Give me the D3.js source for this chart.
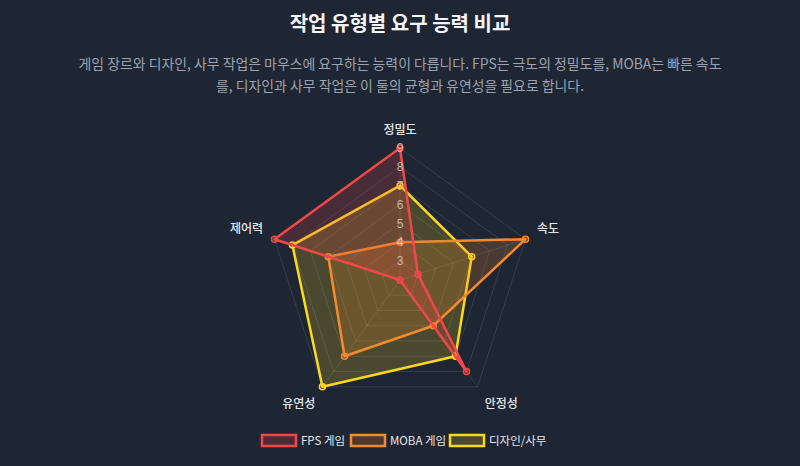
<!DOCTYPE html>
<html>
<head>
<meta charset="utf-8">
<script src="https://cdn.jsdelivr.net/npm/d3@7"></script>
<style>
  html, body { margin: 0; padding: 0; background: #1e2634; }
  svg { display: block; }
</style>
</head>
<body>
<svg id="chart" width="800" height="466"></svg>
<script>
const axes = ['정밀도', '속도', '안정성', '유연성', '제어력'];
const seriesNames = ['FPS 게임', 'MOBA 게임', '디자인/사무'];
const fpsValues = [9, 3, 8, 2, 9];
const mobaValues = [4, 9, 5, 7, 6];
const designValues = [7, 6, 7, 9, 8];
const tickValues = [3, 4, 5, 6, 7, 8, 9];
const subtitleLines = [
    '게임 장르와 디자인, 사무 작업은 마우스에 요구하는 능력이 다릅니다. FPS는 극도의 정밀도를, MOBA는 빠른 속도',
    '를, 디자인과 사무 작업은 이 둘의 균형과 유연성을 필요로 합니다.'
];

const WIDTH = 800;
const CX = 400;
const CY = 280;
const RADIUS = 132;
const FONT = '"Noto Sans CJK KR", "Noto Sans", sans-serif';
const CHART_FONT = '"Liberation Sans", "Noto Sans CJK KR", sans-serif';

const colors = ['#f04848', '#f58a2d', '#fcd91f'];
const fills = ['rgba(240,72,72,0.2)', 'rgba(245,138,45,0.2)', 'rgba(252,217,31,0.2)'];
const series = [fpsValues, mobaValues, designValues];

const svg = d3.select('#chart');

const r = d3.scaleLinear().domain([2, 9]).range([0, RADIUS]);
const angle = d3.scaleLinear().domain([0, axes.length]).range([0, 2 * Math.PI]);

// point on the chart for axis i at value v
const pos = (i, v) => [
    CX + r(v) * Math.sin(angle(i)),
    CY - r(v) * Math.cos(angle(i))
];

// title + subtitle
svg.append('text')
    .attr('x', WIDTH / 2).attr('y', 31)
    .attr('text-anchor', 'middle')
    .attr('font-family', FONT).attr('font-size', 20).attr('font-weight', 700)
    .attr('fill', '#f3f4f6')
    .text('작업 유형별 요구 능력 비교');

svg.selectAll('.subtitle')
    .data(subtitleLines)
    .join('text')
    .attr('class', 'subtitle')
    .attr('x', WIDTH / 2)
    .attr('y', (d, i) => 69 + i * 22)
    .attr('text-anchor', 'middle')
    .attr('font-family', FONT).attr('font-size', 13.9)
    .attr('fill', '#9ca3af')
    .text((d) => d);

// grid rings
const grid = svg.append('g');
tickValues.forEach((t) => {
    const pts = axes.map((a, i) => pos(i, t));
    grid.append('polygon')
        .attr('points', pts.map((p) => p.join(',')).join(' '))
        .attr('fill', 'none')
        .attr('stroke', 'rgba(255,255,255,0.1)')
        .attr('stroke-width', 1);
});

// angle lines
axes.forEach((a, i) => {
    const [x, y] = pos(i, 9);
    grid.append('line')
        .attr('x1', CX).attr('y1', CY)
        .attr('x2', x).attr('y2', y)
        .attr('stroke', 'rgba(255,255,255,0.1)');
});

// series, drawn last-first so FPS ends on top
const line = d3.line().curve(d3.curveLinearClosed);
for (let s = series.length - 1; s >= 0; s--) {
    const pts = series[s].map((v, i) => pos(i, v));
    const g = svg.append('g');
    g.append('path')
        .attr('d', line(pts))
        .attr('fill', fills[s])
        .attr('stroke', colors[s])
        .attr('stroke-width', 2.5)
        .attr('stroke-linejoin', 'round');
    g.selectAll('circle')
        .data(pts)
        .join('circle')
        .attr('cx', (d) => d[0]).attr('cy', (d) => d[1])
        .attr('r', 3)
        .attr('fill', fills[s])
        .attr('stroke', colors[s])
        .attr('stroke-width', 1.5);
}

// tick labels
svg.selectAll('.tick-label')
    .data(tickValues)
    .join('text')
    .attr('class', 'tick-label')
    .attr('x', CX)
    .attr('y', (d) => CY - r(d))
    .attr('dy', '0.35em')
    .attr('text-anchor', 'middle')
    .attr('font-family', CHART_FONT).attr('font-size', 12)
    .attr('fill', 'rgba(230,230,230,0.7)')
    .text((d) => d);

// axis labels
axes.forEach((a, i) => {
    const ang = angle(i);
    const dx = Math.sin(ang);
    const dy = -Math.cos(ang);
    const R = RADIUS + 12;
    let anchor = 'middle';
    if (dx > 0.1) anchor = 'start';
    else if (dx < -0.1) anchor = 'end';
    svg.append('text')
        .attr('x', CX + R * dx)
        .attr('y', CY + R * dy)
        .attr('dy', dy < 0 ? '-0.2em' : '0.95em')
        .attr('text-anchor', anchor)
        .attr('font-family', FONT).attr('font-size', 12).attr('font-weight', 500)
        .attr('fill', '#e5e7eb')
        .text(a);
});

// legend
const legendX = [261, 350, 449];
const legend = svg.selectAll('.legend')
    .data(seriesNames)
    .join('g')
    .attr('class', 'legend')
    .attr('transform', (d, i) => `translate(${legendX[i]},434)`);
legend.append('rect')
    .attr('x', 1).attr('y', 1)
    .attr('width', 34).attr('height', 11)
    .attr('fill', (d, i) => fills[i])
    .attr('stroke', (d, i) => colors[i])
    .attr('stroke-width', 2.5);
legend.append('text')
    .attr('x', 40).attr('y', 6.5)
    .attr('dy', '0.35em')
    .attr('font-family', FONT).attr('font-size', 11.5)
    .attr('fill', '#e5e7eb')
    .text((d) => d);
</script>
</body>
</html>
